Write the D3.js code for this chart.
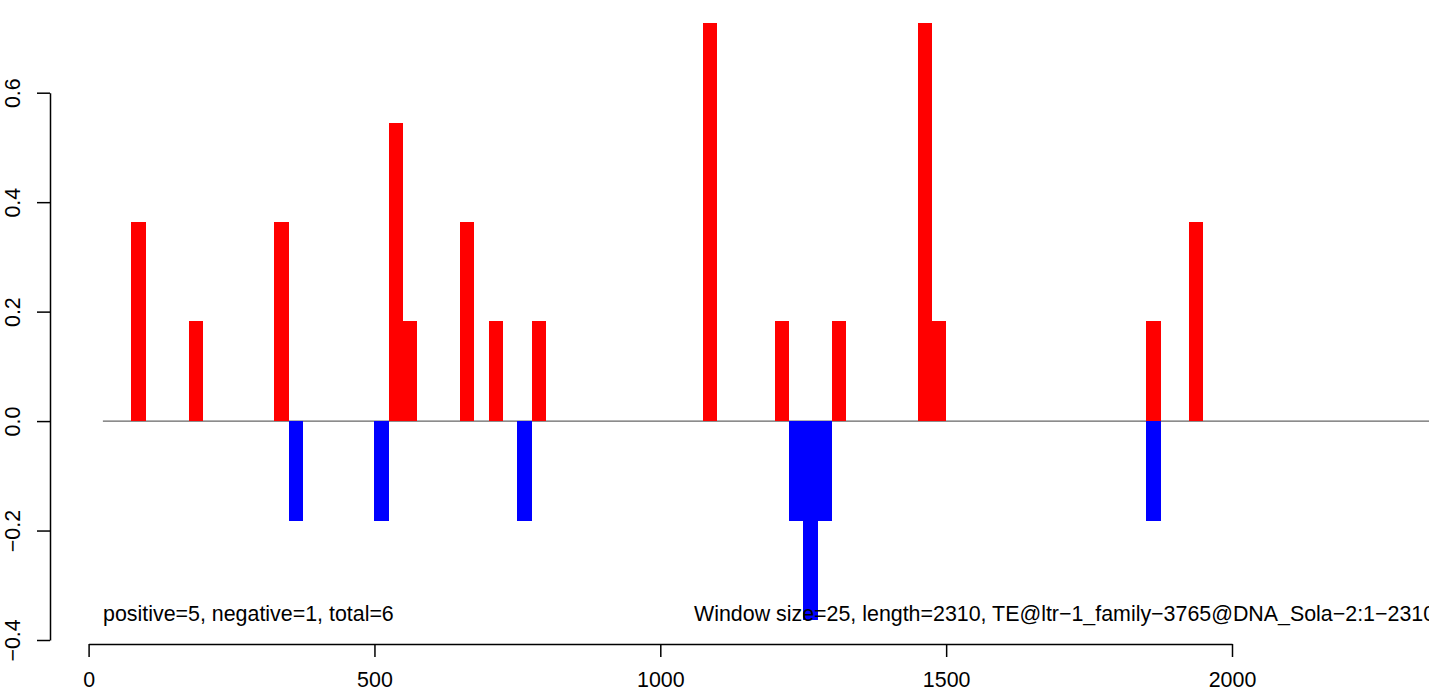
<!DOCTYPE html>
<html>
<head>
<meta charset="utf-8">
<script src="https://cdn.jsdelivr.net/npm/d3@7"></script>
<style>
  html, body { margin: 0; padding: 0; background: #fff; }
  svg { display: block; }
  text { font-family: "Liberation Sans", Arial, Helvetica, sans-serif; }
</style>
</head>
<body>
<svg id="chart" width="1429" height="690"></svg>
<script>
// ---- data ----
const windowSize = 25;
const posStarts = [75, 175, 325, 525, 550, 650, 700, 775, 1075, 1200, 1300, 1450, 1475, 1850, 1925];
const posValues = [0.364, 0.182, 0.364, 0.545, 0.182, 0.364, 0.182, 0.182, 0.727, 0.182, 0.182, 0.727, 0.182, 0.182, 0.364];
const negStarts = [350, 500, 750, 1225, 1250, 1275, 1850];
const negValues = [-0.182, -0.182, -0.182, -0.182, -0.364, -0.182, -0.182];
const xTicks = [0, 500, 1000, 1500, 2000];
const yTicks = [-0.4, -0.2, 0.0, 0.2, 0.4, 0.6];
const baselineRange = [25, 2360];
const leftNote = "positive=5, negative=1, total=6";
const rightNote = "Window size=25, length=2310, TE@ltr\u22121_family\u22123765@DNA_Sola\u22122:1\u22122310";

// ---- drawing ----
const svg = d3.select("#chart");
const x = d3.scaleLinear().domain([0, 2000]).range([88.6, 1232]);
const y = d3.scaleLinear().domain([-0.4, 0.6]).range([640, 92.7]);
const FS = "21.4px";

// zero line
svg.append("line")
  .attr("x1", x(baselineRange[0])).attr("x2", x(baselineRange[1]))
  .attr("y1", y(0)).attr("y2", y(0))
  .attr("stroke", "#666").attr("stroke-width", 1.2);

const pos = posStarts.map((s, i) => ({ s, v: posValues[i] }));
const neg = negStarts.map((s, i) => ({ s, v: negValues[i] }));

svg.append("g").attr("shape-rendering", "crispEdges")
  .selectAll("rect").data(pos).join("rect")
  .attr("x", d => x(d.s)).attr("width", d => x(d.s + windowSize) - x(d.s))
  .attr("y", d => y(d.v)).attr("height", d => y(0) - y(d.v))
  .attr("fill", "#ff0000");

svg.append("g").attr("shape-rendering", "crispEdges")
  .selectAll("rect").data(neg).join("rect")
  .attr("x", d => x(d.s)).attr("width", d => x(d.s + windowSize) - x(d.s))
  .attr("y", y(0)).attr("height", d => y(d.v) - y(0))
  .attr("fill", "#0000ff");

// x axis
const gx = svg.append("g").attr("transform", "translate(0,644)")
  .call(d3.axisBottom(x).tickValues(xTicks).tickFormat(d3.format("d"))
    .tickSize(13).tickSizeOuter(0).tickPadding(15));
gx.selectAll("path, line").attr("stroke", "#000").attr("stroke-width", 1.5);
gx.selectAll("text").attr("font-size", FS).attr("fill", "#000")
  .style("font-family", "'Liberation Sans', Arial, sans-serif");

// y axis
const gy = svg.append("g").attr("transform", "translate(50,0)")
  .call(d3.axisLeft(y).tickValues(yTicks).tickFormat(d3.format(".1f"))
    .tickSize(13).tickSizeOuter(0));
gy.selectAll("path, line").attr("stroke", "#000").attr("stroke-width", 1.5);
gy.selectAll("text")
  .attr("x", null).attr("dy", null)
  .attr("text-anchor", "middle")
  .attr("transform", "translate(-30,0) rotate(-90)")
  .attr("font-size", FS).attr("fill", "#000")
  .style("font-family", "'Liberation Sans', Arial, sans-serif");
gy.attr("font-family", null).attr("font-size", null);
gx.attr("font-family", null).attr("font-size", null);

// notes
svg.append("text").attr("x", 103).attr("y", 621)
  .attr("font-size", FS).attr("fill", "#000").text(leftNote);
svg.append("text").attr("x", 694).attr("y", 621)
  .attr("font-size", FS).attr("fill", "#000").text(rightNote);
</script>
</body>
</html>
